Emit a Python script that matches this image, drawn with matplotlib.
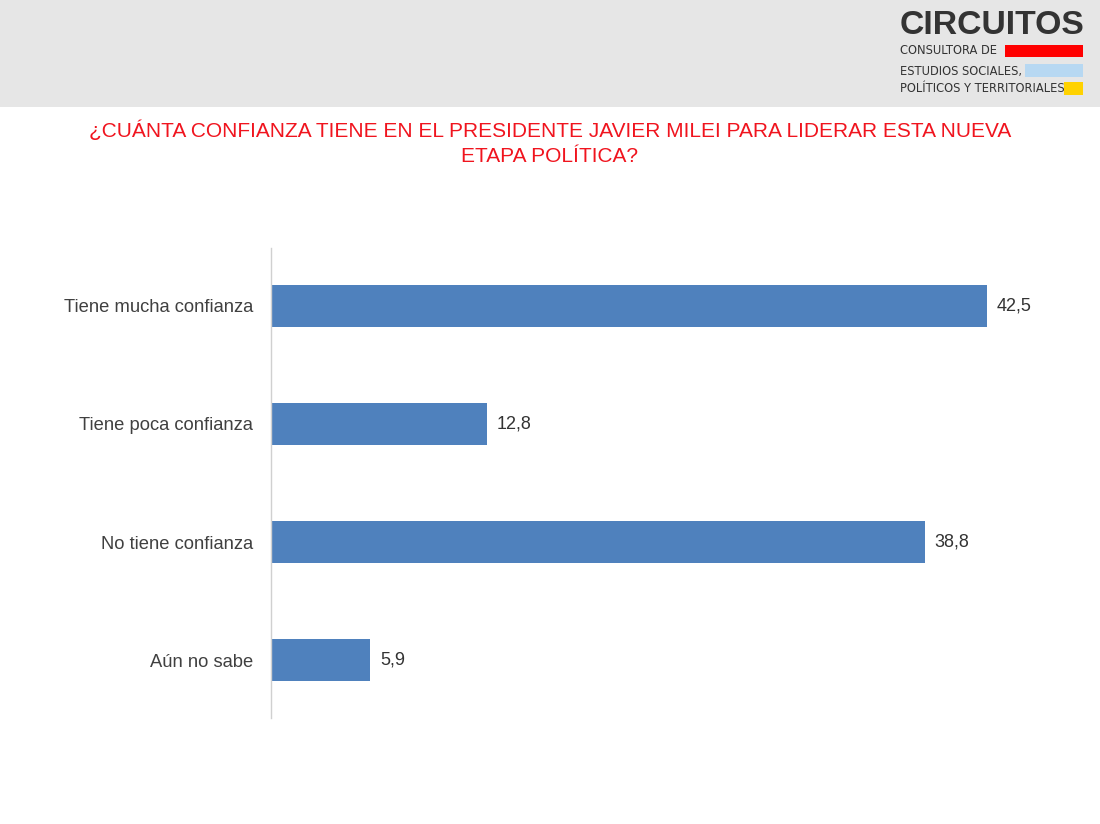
import matplotlib
matplotlib.use("Agg")
import matplotlib.pyplot as plt
from matplotlib.patches import Rectangle
from matplotlib import font_manager

categories = ["Tiene mucha confianza", "Tiene poca confianza", "No tiene confianza", "Aún no sabe"]
values = [42.5, 12.8, 38.8, 5.9]
value_labels = ["42,5", "12,8", "38,8", "5,9"]
title = "¿CUÁNTA CONFIANZA TIENE EN EL PRESIDENTE JAVIER MILEI PARA LIDERAR ESTA NUEVA\nETAPA POLÍTICA?"

plt.rcParams['font.family'] = ['Liberation Sans', 'DejaVu Sans']

fonts = font_manager.fontManager.ttflist
names = {f.name for f in fonts}
narrow = 'Liberation Sans Narrow' in names
dejavu_cond = any(f.name == 'DejaVu Sans' and str(f.stretch) in ('condensed', 'semi-condensed', '87.5', '75')
                  for f in fonts)

W, H = 1100, 824
fig = plt.figure(figsize=(W / 100, H / 100), dpi=100)
fig.patch.set_facecolor("white")

def fx(px):
    return px / W

def fy(py):
    return 1 - py / H

# Header band
fig.patches.append(Rectangle((0, fy(107)), 1, 107 / H, transform=fig.transFigure,
                             facecolor="#e6e6e6", edgecolor="none", zorder=0))

# Logo
fig.text(fx(900), fy(26), "CIRCUITOS", fontsize=24.3, fontweight="bold", color="#333333",
         ha="left", va="center")
sub = ["CONSULTORA DE", "ESTUDIOS SOCIALES,", "POLÍTICOS Y TERRITORIALES"]
sub_y = [51, 71, 89]
rects = [(1005, 45, 78, 12, "#ff0000"), (1025, 64, 58, 13, "#b7d8f2"), (1064, 82, 19, 13, "#ffd200")]
if narrow:
    sub_font = dict(family=['Liberation Sans Narrow', 'DejaVu Sans'], fontsize=9.9)
elif dejavu_cond:
    sub_font = dict(family=['DejaVu Sans'], fontstretch='condensed', fontsize=9.2)
else:
    sub_font = dict(fontsize=8.1)
for s, yy in zip(sub, sub_y):
    fig.text(fx(900), fy(yy), s, color="#333333", ha="left", va="center", **sub_font)
for x0, y0, w, h, c in rects:
    fig.patches.append(Rectangle((fx(x0), fy(y0 + h)), w / W, h / H, transform=fig.transFigure,
                                 facecolor=c, edgecolor="none", zorder=1))

# Title (two lines)
for line, yy in zip(title.split("\n"), [131, 157]):
    fig.text(0.5, fy(yy), line, fontsize=15, color="#f0141e", ha="center", va="center")

# Axes
ax_left, ax_right = 271, 1050
ax_top, ax_bottom = 248, 718
ax = fig.add_axes([fx(ax_left), fy(ax_bottom), (ax_right - ax_left) / W, (ax_bottom - ax_top) / H])
px_per_unit = (987 - 271) / 42.5
ax.set_xlim(0, (ax_right - ax_left) / px_per_unit)
ax.set_ylim(3.49, -0.49)

ypos = list(range(len(categories)))
ax.barh(ypos, values, height=0.355, color="#4f81bd", zorder=2)
for y, v, lab in zip(ypos, values, value_labels):
    ax.text(v + 10 / px_per_unit, y, lab, fontsize=13, color="#333333", ha="left", va="center")

ax.set_yticks(ypos)
ax.set_yticklabels(categories, fontsize=13.2, color="#404040")
ax.tick_params(axis="y", length=0, pad=13)
ax.set_xticks([])
for s in ["top", "right", "bottom"]:
    ax.spines[s].set_visible(False)
ax.spines["left"].set_color("#d0d0d0")
ax.spines["left"].set_linewidth(1)
ax.patch.set_alpha(0)

fig.savefig("out.png", dpi=100)
